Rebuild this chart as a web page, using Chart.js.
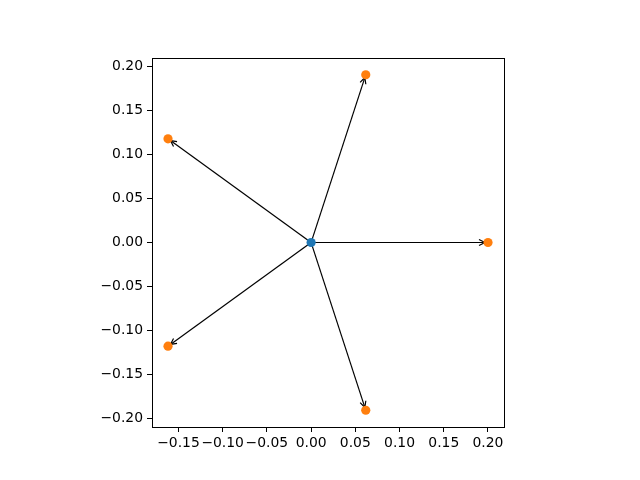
<!DOCTYPE html>
<html>
<head>
<meta charset="utf-8">
<script src="https://cdn.jsdelivr.net/npm/chart.js@4"></script>
<style>
  body { margin: 0; background: #fff; }
  canvas { display: block; }
</style>
</head>
<body>
<canvas id="arrowChart" width="640" height="480"></canvas>
<script>
// data
const originX = [0.0];
const originY = [0.0];
const targetX = [0.2, 0.0618, -0.1618, -0.1618, 0.0618];
const targetY = [0.0, 0.1902, 0.1176, -0.1176, -0.1902];
const xTicks = [-0.15, -0.10, -0.05, 0.00, 0.05, 0.10, 0.15, 0.20];
const yTicks = [-0.20, -0.15, -0.10, -0.05, 0.00, 0.05, 0.10, 0.15, 0.20];

function fmt(v) {
    const s = Math.abs(v).toFixed(2);
    return (v < -1e-9 ? '\u2212' : '') + s;
}

// frame round the axes box
const framePlugin = {
    id: 'frame',
    afterDraw(chart) {
        const a = chart.chartArea;
        const ctx = chart.ctx;
        ctx.save();
        ctx.strokeStyle = '#000';
        ctx.lineWidth = 1;
        ctx.strokeRect(Math.round(a.left) + 0.5, Math.round(a.top) + 0.5,
            Math.round(a.right - a.left), Math.round(a.bottom - a.top));
        ctx.restore();
    }
};

// arrows from the origin to each target ("->" style)
const arrowPlugin = {
    id: 'arrows',
    beforeDatasetsDraw(chart) {
        const xs = chart.scales.x, ys = chart.scales.y;
        const ctx = chart.ctx;
        const shrink = 3;
        ctx.save();
        ctx.strokeStyle = '#000';
        ctx.lineWidth = 1.2;
        for (let i = 0; i < targetX.length; i++) {
            const x0 = xs.getPixelForValue(originX[0]);
            const y0 = ys.getPixelForValue(originY[0]);
            const x1 = xs.getPixelForValue(targetX[i]);
            const y1 = ys.getPixelForValue(targetY[i]);
            const ang = Math.atan2(y1 - y0, x1 - x0);
            const sx = x0 + shrink * Math.cos(ang), sy = y0 + shrink * Math.sin(ang);
            const ex = x1 - shrink * Math.cos(ang), ey = y1 - shrink * Math.sin(ang);
            ctx.beginPath();
            ctx.moveTo(sx, sy);
            ctx.lineTo(ex, ey);
            ctx.stroke();
            // open head
            const hl = 6, hw = 3;
            const bx = ex - hl * Math.cos(ang), by = ey - hl * Math.sin(ang);
            ctx.beginPath();
            ctx.moveTo(bx + hw * Math.sin(ang), by - hw * Math.cos(ang));
            ctx.lineTo(ex, ey);
            ctx.lineTo(bx - hw * Math.sin(ang), by + hw * Math.cos(ang));
            ctx.stroke();
        }
        ctx.restore();
    }
};

const tickFont = { family: 'DejaVu Sans', size: 13.9 };

new Chart(document.getElementById('arrowChart'), {
    type: 'scatter',
    data: {
        datasets: [
            {
                data: targetX.map((x, i) => ({ x: x, y: targetY[i] })),
                backgroundColor: '#ff7f0e',
                borderWidth: 0,
                pointRadius: 4.6
            },
            {
                data: originX.map((x, i) => ({ x: x, y: originY[i] })),
                backgroundColor: '#1f77b4',
                borderWidth: 0,
                pointRadius: 4.6
            }
        ]
    },
    options: {
        responsive: false,
        animation: false,
        events: [],
        layout: { padding: { left: 0, right: 136, top: 58, bottom: 0 } },
        plugins: { legend: { display: false }, tooltip: { enabled: false } },
        scales: {
            x: {
                type: 'linear',
                min: -0.1799,
                max: 0.2181,
                afterBuildTicks: (s) => { s.ticks = xTicks.map(v => ({ value: v })); },
                afterFit: (s) => { s.height = 53; },
                ticks: { callback: fmt, color: '#000', font: tickFont, padding: 3, maxRotation: 0, autoSkip: false },
                grid: { drawOnChartArea: false, drawTicks: true, tickLength: 5, tickColor: '#000' },
                border: { display: false }
            },
            y: {
                type: 'linear',
                min: -0.2092,
                max: 0.2092,
                afterBuildTicks: (s) => { s.ticks = yTicks.map(v => ({ value: v })); },
                afterFit: (s) => { s.width = 152; },
                ticks: { callback: fmt, color: '#000', font: tickFont, padding: 4, autoSkip: false },
                grid: { drawOnChartArea: false, drawTicks: true, tickLength: 5, tickColor: '#000' },
                border: { display: false }
            }
        }
    },
    plugins: [arrowPlugin, framePlugin]
});
</script>
</body>
</html>
